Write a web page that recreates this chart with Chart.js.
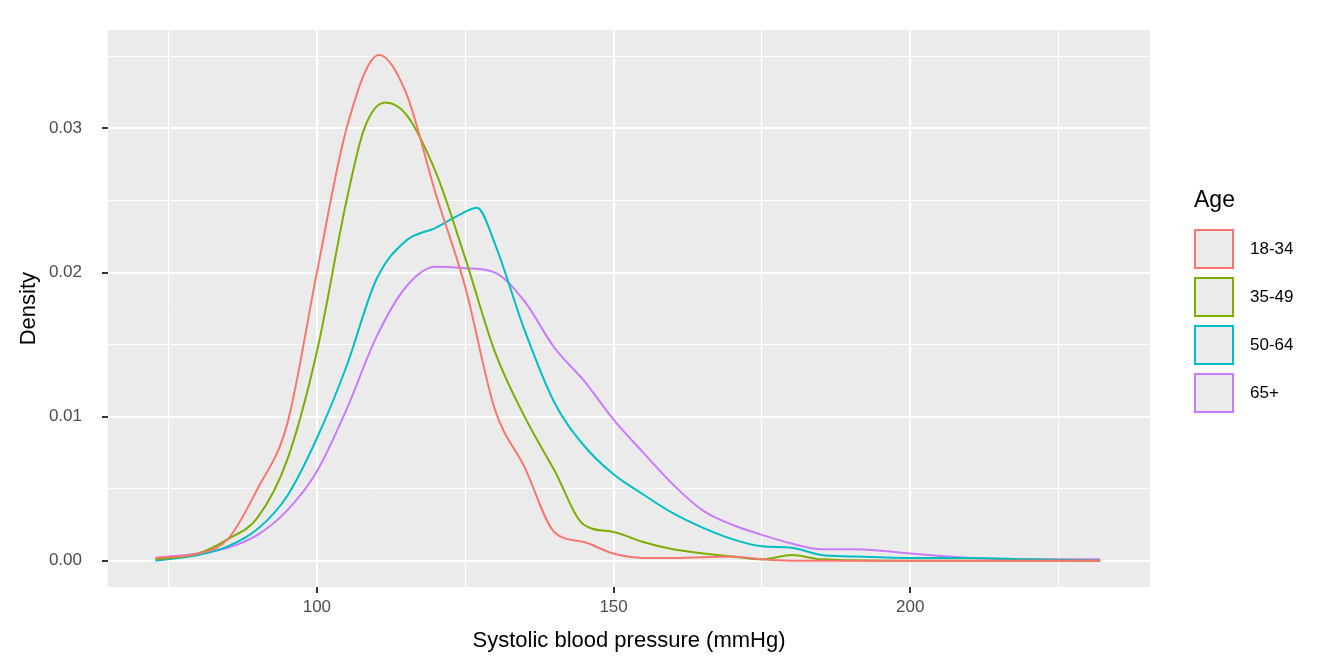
<!DOCTYPE html>
<html><head><meta charset="utf-8">
<script src="https://cdn.jsdelivr.net/npm/chart.js@4"></script>
<style>
body{margin:0;background:#fff;font-family:"Liberation Sans",Arial,sans-serif;}
#wrap{position:relative;width:1344px;height:672px;}
#legend{position:absolute;left:1194px;top:186px;}
#legend .t{font-size:23px;margin-bottom:12px;}
#legend .r{display:flex;align-items:center;height:48px;font-size:17px;}
#legend .k{width:40px;height:40px;box-sizing:border-box;border:2px solid;background:#EBEBEB;margin-right:16px;outline:2px solid #fff;}
</style></head><body>
<div id="wrap"><canvas id="c" width="1344" height="672"></canvas>
<div id="legend"><div class="t">Age</div></div></div>
<script>
const groups = ['18-34', '35-49', '50-64', '65+'];
const colors = ['#F8766D', '#7CAE00', '#00BFC4', '#C77CFF'];
const xs18 = [72.8, 80, 85, 90, 95, 100, 105, 110.5, 115, 120, 125, 130, 135, 140, 145, 150, 155, 160, 170, 175, 180, 232];
const ys18 = [0.0002, 0.0005, 0.0015, 0.005, 0.0095, 0.02, 0.03, 0.0351, 0.0325, 0.0255, 0.019, 0.0105, 0.0065, 0.002, 0.0013, 0.0005, 0.0002, 0.0002, 0.0003, 0.0001, 0, 0];
const xs35 = [72.8, 80, 85, 90, 95, 100, 105, 108, 111.5, 115, 120, 125, 130, 135, 140, 145, 150, 155, 160, 170, 175, 180, 185, 200, 232];
const ys35 = [0.0001, 0.0005, 0.0015, 0.003, 0.007, 0.0145, 0.025, 0.030, 0.0318, 0.031, 0.027, 0.021, 0.0145, 0.010, 0.0063, 0.0025, 0.002, 0.0013, 0.0008, 0.0003, 0.0001, 0.0004, 0.0001, 0, 0];
const xs50 = [72.8, 80, 85, 90, 95, 100, 105, 110, 115, 120, 124, 127, 130, 135, 140, 145, 150, 155, 160, 165, 170, 175, 180, 185, 190, 200, 210, 220, 232];
const ys50 = [0, 0.0004, 0.001, 0.0022, 0.0045, 0.0085, 0.0135, 0.0195, 0.0222, 0.0231, 0.024, 0.0245, 0.022, 0.016, 0.011, 0.008, 0.006, 0.0046, 0.0033, 0.0023, 0.0015, 0.001, 0.0009, 0.0004, 0.0003, 0.0002, 0.0002, 0.0001, 0];
const xs65 = [72.8, 80, 85, 90, 95, 100, 105, 110, 115, 120, 125, 130, 135, 140, 145, 150, 155, 160, 165, 170, 175, 180, 185, 190, 195, 200, 210, 220, 232];
const ys65 = [0.0002, 0.0005, 0.0009, 0.0018, 0.0035, 0.0062, 0.0105, 0.0155, 0.019, 0.0204, 0.0203, 0.020, 0.018, 0.0148, 0.0125, 0.0098, 0.0075, 0.0053, 0.0035, 0.0025, 0.0018, 0.0012, 0.0008, 0.0008, 0.0007, 0.0005, 0.0002, 0.0001, 0.0001];
const series = [[xs18, ys18], [xs35, ys35], [xs50, ys50], [xs65, ys65]];

const legend = document.getElementById('legend');
groups.forEach((g, i) => {
    const r = document.createElement('div');
    r.className = 'r';
    r.innerHTML = `<div class="k" style="border-color:${colors[i]}"></div>${g}`;
    legend.appendChild(r);
});

const panelBg = {
    id: 'panelBg',
    beforeDraw(chart) {
        const a = chart.chartArea, ctx = chart.ctx;
        ctx.save();
        ctx.fillStyle = '#EBEBEB';
        ctx.fillRect(a.left, a.top, a.right - a.left, a.bottom - a.top);
        ctx.restore();
    }
};

const isMajorX = v => Math.abs(v % 50) < 1e-6;
const isMajorY = v => Math.abs(Math.round(v * 1000) % 10) < 1e-6;

new Chart(document.getElementById('c'), {
    type: 'line',
    data: {
        datasets: series.map((s, i) => ({
            label: groups[i],
            data: s[0].map((x, j) => ({x, y: s[1][j]})),
            borderColor: colors[i],
            borderWidth: 2,
            pointRadius: 0,
            fill: false,
            cubicInterpolationMode: 'monotone'
        }))
    },
    options: {
        responsive: false,
        animation: false,
        layout: {padding: {top: 15, right: 194, left: 12, bottom: 0}},
        plugins: {legend: {display: false}, tooltip: {enabled: false}},
        scales: {
            x: {
                type: 'linear', min: 64.8, max: 240.4,
                afterFit: s => { s.height = 85; },
                afterBuildTicks: s => { s.ticks = [75, 100, 125, 150, 175, 200, 225].map(v => ({value: v})); },
                border: {display: false},
                grid: {
                    color: '#FFFFFF',
                    lineWidth: c => isMajorX(c.tick.value) ? 2 : 1,
                    tickColor: c => isMajorX(c.tick.value) ? '#333333' : 'rgba(0,0,0,0)',
                    tickLength: 6
                },
                ticks: {
                    callback: v => isMajorX(v) ? v : '',
                    color: '#4D4D4D', font: {size: 17, family: 'Liberation Sans'}, maxRotation: 0, padding: 4
                },
                title: {display: true, text: 'Systolic blood pressure (mmHg)', color: '#000', font: {size: 22, family: 'Liberation Sans'}, padding: {top: 4, bottom: 18}}
            },
            y: {
                min: -0.00182, max: 0.03682,
                afterFit: s => { s.width = 96; },
                afterBuildTicks: s => { s.ticks = [0, 0.005, 0.01, 0.015, 0.02, 0.025, 0.03, 0.035].map(v => ({value: v})); },
                border: {display: false},
                grid: {
                    color: '#FFFFFF',
                    lineWidth: c => isMajorY(c.tick.value) ? 2 : 1,
                    tickColor: c => isMajorY(c.tick.value) ? '#333333' : 'rgba(0,0,0,0)',
                    tickLength: 6
                },
                ticks: {
                    callback: v => isMajorY(v) && v < 0.035 ? v.toFixed(2) : '',
                    color: '#4D4D4D', font: {size: 17, family: 'Liberation Sans'}, padding: 20
                },
                title: {display: true, text: 'Density', color: '#000', font: {size: 22, family: 'Liberation Sans'}, padding: {bottom: 4}}
            }
        }
    },
    plugins: [panelBg]
});
</script></body></html>
